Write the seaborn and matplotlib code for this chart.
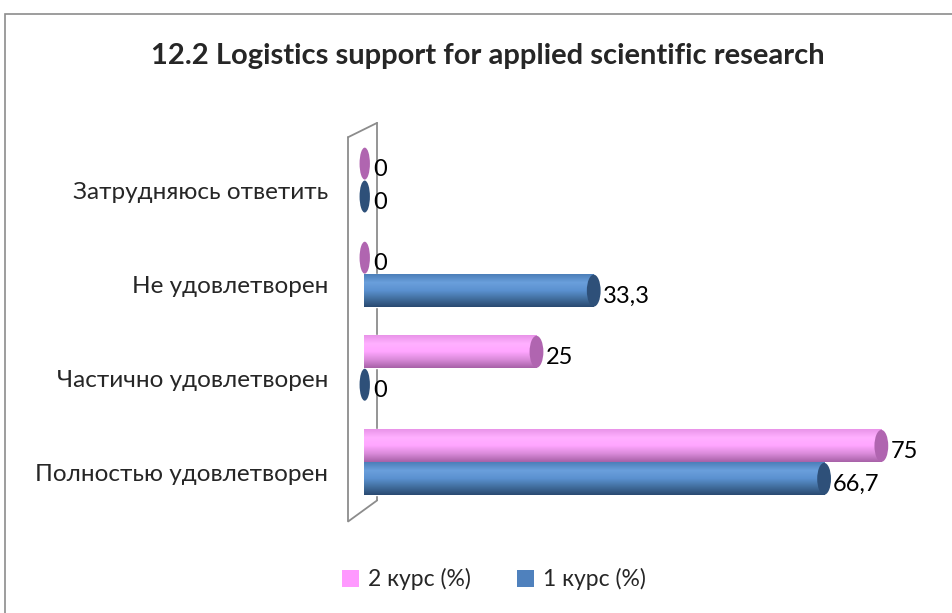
import numpy as np
import pandas as pd
import matplotlib
matplotlib.use("Agg")
import matplotlib.pyplot as plt
import matplotlib.transforms as mtransforms
from matplotlib.colors import LinearSegmentedColormap
from matplotlib.patches import Ellipse, Rectangle, Patch
import seaborn as sns

# datos
categorias = ["Затрудняюсь ответить", "Не удовлетворен",
              "Частично удовлетворен", "Полностью удовлетворен"]
curso_2 = [0, 0, 25, 75]
curso_1 = [0, 33.3, 0, 66.7]
series = ["2 курс (%)", "1 курс (%)"]

colores = {"2 курс (%)": "#FF99FF", "1 курс (%)": "#4F81BD"}
tapas = {"2 курс (%)": "#B065B0", "1 курс (%)": "#2E5079"}
degradados = {
    "2 курс (%)": ["#E994E9", "#FFB0FF", "#FFA6FF", "#D98AD9", "#A862A8"],
    "1 курс (%)": ["#4C7FB9", "#6A9FDC", "#5B91D0", "#426F9F", "#2A4A72"],
}

df = pd.DataFrame({
    "categoria": categorias * 2,
    "valor": curso_2 + curso_1,
    "serie": [series[0]] * 4 + [series[1]] * 4,
})

sns.set_theme(style="white")
plt.rcParams["font.family"] = ["Lato", "DejaVu Sans"]

fig = plt.figure(figsize=(9.53, 6.13), dpi=100)
ax = fig.add_axes([0.382, 0.169, 0.579, 0.614])

sns.barplot(data=df, y="categoria", x="valor", hue="serie", hue_order=series,
            order=categorias, palette=colores, width=0.7, orient="h",
            errorbar=None, ax=ax, legend=False, saturation=1)

xmax = 80

# cilindros: degradado + tapa
for cont, serie in zip(ax.containers, series):
    cmap = LinearSegmentedColormap.from_list(serie, degradados[serie])
    grad = np.linspace(0, 1, 64).reshape(-1, 1)
    for patch in cont:
        x0, y0 = patch.get_x(), patch.get_y()
        w, h = patch.get_width(), patch.get_height()
        yc = y0 + h / 2
        if w > 0:
            im = ax.imshow(grad, cmap=cmap, aspect="auto", origin="upper",
                           extent=[x0, x0 + w, y0 + h, y0], zorder=2)
            im.set_clip_path(patch)
            ax.add_patch(Ellipse((x0 + w, yc), 2.0, h * 0.97,
                                 facecolor=tapas[serie], edgecolor="none", zorder=3))
            # extremo izquierdo redondeado
            fondo = Ellipse((x0, yc), 1.6, h, facecolor="none", edgecolor="none",
                            zorder=1, clip_on=False)
            ax.add_patch(fondo)
            im2 = ax.imshow(grad, cmap=cmap, aspect="auto", origin="upper",
                            extent=[x0 - 0.8, x0 + 0.1, y0 + h, y0], zorder=1)
            im2.set_clip_path(fondo)
            im2.set_clip_on(True)
        else:
            ax.add_patch(Ellipse((0.1, yc), 1.5, h * 0.97,
                                 facecolor=tapas[serie], edgecolor="none", zorder=3,
                                 clip_on=False))
        etiqueta = f"{w:g}".replace(".", ",")
        ax.text(x0 + w + 1.3, yc + 0.06, etiqueta, va="center", ha="left",
                fontsize=17, color="black", zorder=4)

ax.set_xlim(0, xmax)
ax.set_ylim(3.5, -0.5)

# pared 3D (x en datos, y en fraccion del eje)
trans = ax.get_xaxis_transform()
gris = "#8C8C8C"
xl, xr = -2.3, 1.9
yb_l, yt_l, yb_r, yt_r = -0.032, 0.989, 0.024, 1.027
kw = dict(color=gris, lw=1.3, transform=trans, clip_on=False, zorder=0)
ax.plot([xl, xl], [yb_l, yt_l], **kw)
ax.plot([xr, xr], [yb_r, yt_r], **kw)
ax.plot([xl, xr], [yt_l, yt_r], **kw)
ax.plot([xl, xr], [yb_l, yb_r], **kw)

for s in ax.spines.values():
    s.set_visible(False)
ax.set_xticks([])
ax.set_xlabel("")
ax.set_ylabel("")
ax.tick_params(axis="y", length=0, pad=26, labelsize=17.5)
desplazamiento = mtransforms.ScaledTranslation(0, -0.10, fig.dpi_scale_trans)
for lbl in ax.get_yticklabels():
    lbl.set_transform(lbl.get_transform() + desplazamiento)

fig.suptitle("12.2 Logistics support for applied scientific research",
             x=0.512, y=0.93, fontsize=21, fontweight="bold")

# leyenda
manejadores = [Patch(facecolor=colores[s], edgecolor="none") for s in series]
fig.legend(manejadores, series, loc="center", bbox_to_anchor=(0.518, 0.055),
           ncol=2, frameon=False, fontsize=16.5, handlelength=0.75, handleheight=0.75,
           columnspacing=2.0, handletextpad=0.4)

# marco del grafico
fig.patches.append(Rectangle((0.005, -0.1), 1.1, 1.077, transform=fig.transFigure,
                             fill=False, edgecolor="#8C8C8C", lw=1.2))

fig.savefig("out.png", dpi=100)
